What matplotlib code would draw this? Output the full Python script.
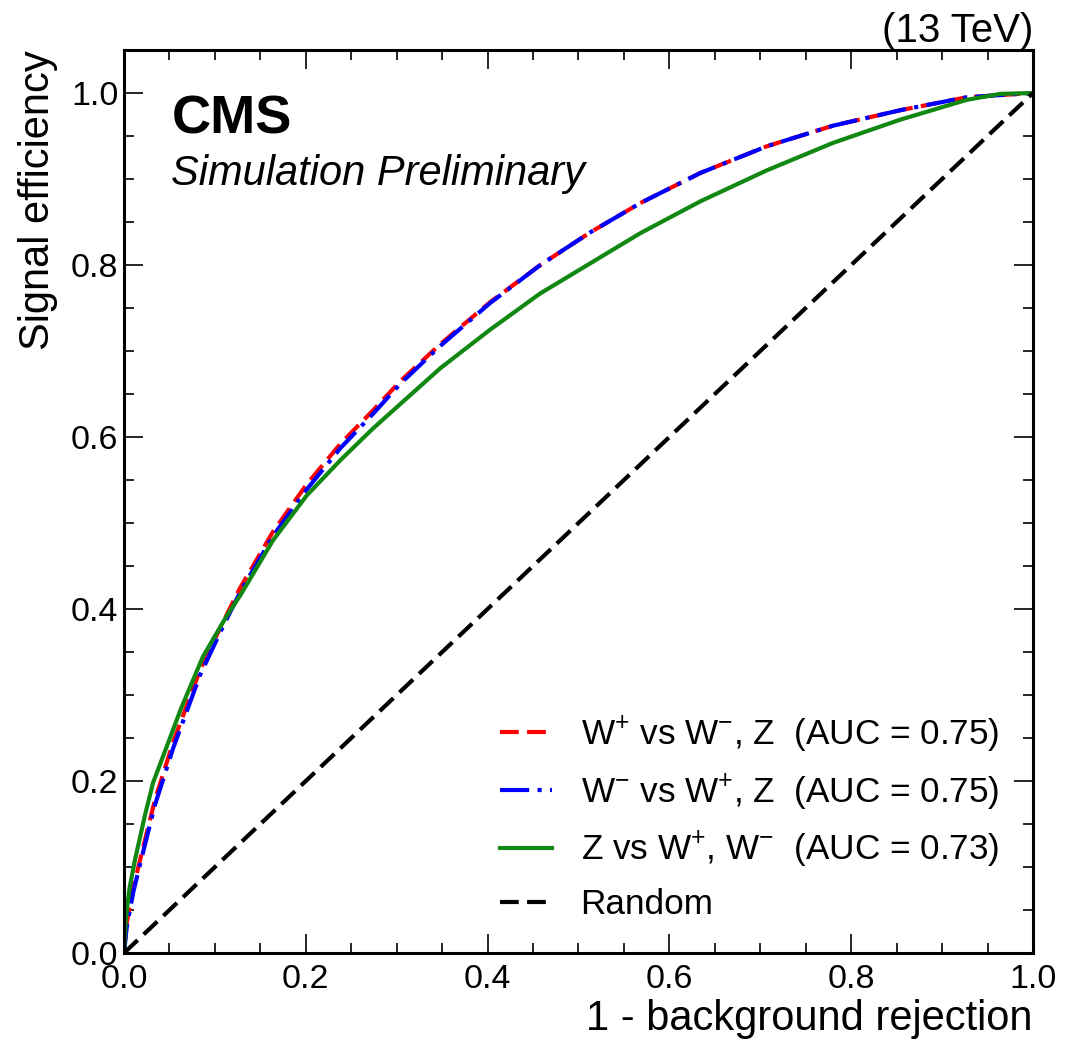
"""ROC curves for the W+/W-/Z charge classifier (CMS simulation style)."""
import matplotlib

matplotlib.use("Agg")
import matplotlib.pyplot as plt
from matplotlib.ticker import MultipleLocator, FormatStrFormatter

# ROC points (x = 1 - background rejection, y = signal eff.)
wp_x = [0, 0.003, 0.010, 0.0176, 0.034, 0.054, 0.084, 0.109, 0.128, 0.164, 0.201,
        0.238, 0.274, 0.304, 0.348, 0.403, 0.458, 0.513, 0.568, 0.634, 0.707,
        0.780, 0.854, 0.927, 0.970, 1.0]
wp_y = [0, 0.035, 0.075, 0.108, 0.178, 0.245, 0.330, 0.385, 0.425, 0.490, 0.545,
        0.592, 0.631, 0.665, 0.708, 0.757, 0.800, 0.838, 0.872, 0.907, 0.938,
        0.962, 0.980, 0.995, 0.998, 1.0]

wm_x = wp_x
wm_y = [0, 0.030, 0.070, 0.103, 0.172, 0.238, 0.324, 0.380, 0.420, 0.485, 0.539,
        0.587, 0.627, 0.662, 0.706, 0.756, 0.800, 0.838, 0.872, 0.907, 0.938,
        0.962, 0.980, 0.995, 0.998, 1.0]

z_x = [0, 0.002, 0.006, 0.012, 0.023, 0.032, 0.047, 0.063, 0.087, 0.113, 0.128,
       0.164, 0.201, 0.238, 0.274, 0.311, 0.348, 0.403, 0.458, 0.513, 0.568,
       0.634, 0.707, 0.780, 0.854, 0.927, 0.964, 1.0]
z_y = [0, 0.040, 0.075, 0.108, 0.160, 0.198, 0.240, 0.285, 0.345, 0.392, 0.416,
       0.480, 0.532, 0.573, 0.610, 0.645, 0.680, 0.725, 0.767, 0.802, 0.837,
       0.874, 0.910, 0.942, 0.969, 0.992, 0.999, 1.0]

labels = [
    r"W$^{+}$ vs W$^{-}$, Z  (AUC = 0.75)",
    r"W$^{-}$ vs W$^{+}$, Z  (AUC = 0.75)",
    r"Z vs W$^{+}$, W$^{-}$  (AUC = 0.73)",
    "Random",
]

plt.rcParams["font.family"] = ["Liberation Sans", "DejaVu Sans"]
plt.rcParams["mathtext.fontset"] = "custom"
plt.rcParams["mathtext.rm"] = "Liberation Sans"
plt.rcParams["mathtext.it"] = "Liberation Sans:italic"
plt.rcParams["mathtext.bf"] = "Liberation Sans:bold"


def main() -> None:
    fig = plt.figure(figsize=(10.83, 10.42), dpi=100)
    ax = fig.add_axes([0.1145, 0.0854, 0.8393, 0.8666])

    lw = 3.0
    ax.plot(wp_x, wp_y, color="#ff0000", lw=lw, dashes=(4.5, 2), label=labels[0])
    ax.plot(wm_x, wm_y, color="#0000ff", lw=lw, dashes=(7, 2, 1, 2), label=labels[1])
    ax.plot(z_x, z_y, color="#118811", lw=lw, label=labels[2])
    ax.plot([0, 1], [0, 1], color="black", lw=lw, dashes=(4.5, 2), label=labels[3])

    ax.set_xlim(0, 1)
    ax.set_ylim(0, 1.05)
    ax.xaxis.set_major_locator(MultipleLocator(0.2))
    ax.xaxis.set_minor_locator(MultipleLocator(0.05))
    ax.yaxis.set_major_locator(MultipleLocator(0.2))
    ax.yaxis.set_minor_locator(MultipleLocator(0.05))
    ax.xaxis.set_major_formatter(FormatStrFormatter("%.1f"))
    ax.yaxis.set_major_formatter(FormatStrFormatter("%.1f"))
    ax.tick_params(which="both", direction="in", top=True, right=True,
                   width=1.2, labelsize=24.5)
    ax.tick_params(which="major", length=14)
    ax.tick_params(which="minor", length=7)
    ax.tick_params(axis="x", pad=8)
    ax.tick_params(axis="y", pad=4)
    for sp in ax.spines.values():
        sp.set_linewidth(2.2)

    ax.set_xlabel("1 - background rejection", fontsize=30, loc="right", labelpad=3)
    ax.set_ylabel("Signal efficiency", fontsize=30, loc="top", labelpad=9)
    ax.set_title("(13 TeV)", fontsize=29, loc="right", pad=4)

    ax.text(0.052, 0.908, "CMS", transform=ax.transAxes, fontsize=39,
            fontweight="bold", va="baseline")
    ax.text(0.052, 0.850, "Simulation Preliminary", transform=ax.transAxes,
            fontsize=30, style="italic", va="baseline")

    ax.legend(loc="lower left", bbox_to_anchor=(0.394, 0.016), frameon=False,
              fontsize=25.3, handlelength=1.5, handletextpad=0.8,
              labelspacing=0.5, borderpad=0)

    fig.savefig("out.png", dpi=100)
    plt.close(fig)


if __name__ == "__main__":
    main()
